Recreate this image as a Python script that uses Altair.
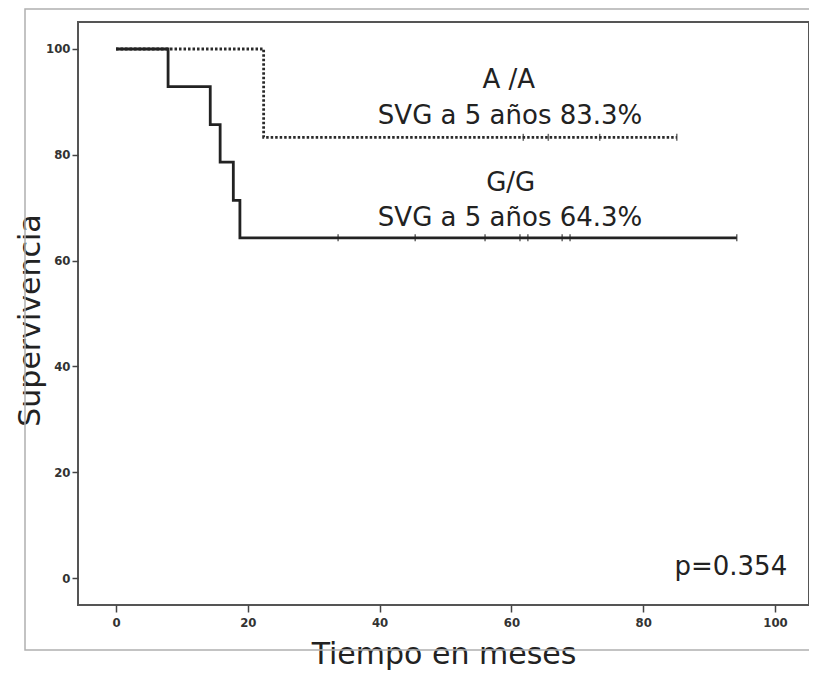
import altair as alt
import pandas as pd

# Kaplan-Meier step points (time in months, survival %)
aa_time = [0, 22.4, 85.1]
aa_surv = [100, 83.3, 83.3]
gg_time = [0, 7.9, 14.3, 15.8, 17.8, 18.8, 94.2]
gg_surv = [100, 92.9, 85.7, 78.6, 71.4, 64.3, 64.3]

# censored observations
aa_cens_time = [61.8, 65.6, 73.4, 85.1]
aa_cens_surv = [83.3, 83.3, 83.3, 83.3]
gg_cens_time = [33.7, 45.4, 56.0, 61.3, 62.5, 67.7, 68.9, 94.2]
gg_cens_surv = [64.3] * 8

x_ticks = [0, 20, 40, 60, 80, 100]
y_ticks = [0, 20, 40, 60, 80, 100]

labels = ["A /A", "SVG a 5 años 83.3%", "G/G", "SVG a 5 años 64.3%", "p=0.354"]
label_x = [59.6, 59.8, 59.9, 59.8, 93.3]
label_y = [94.1, 87.3, 74.7, 68.1, 2.1]

curves = pd.DataFrame({
    "t": aa_time + gg_time,
    "s": aa_surv + gg_surv,
    "g": ["A/A"] * len(aa_time) + ["G/G"] * len(gg_time),
})
cens = pd.DataFrame({
    "t": aa_cens_time + gg_cens_time,
    "s": aa_cens_surv + gg_cens_surv,
    "g": ["A/A"] * len(aa_cens_time) + ["G/G"] * len(gg_cens_time),
})
texts = pd.DataFrame({"label": labels, "x": label_x, "y": label_y})

TICKFONT = "Liberation Sans Narrow, DejaVu Sans Condensed, Liberation Sans"
TXTFONT = "DejaVu Sans"

xscale = alt.Scale(domain=[-5.77, 105.16], nice=False, zero=False)
yscale = alt.Scale(domain=[-5.1, 105.1], nice=False, zero=False)

xaxis = alt.Axis(values=x_ticks, grid=False, domain=False, tickSize=7, tickColor="#444",
                 tickWidth=1.5, labelFont=TICKFONT, labelFontSize=13, labelFontWeight="bold",
                 labelColor="#333", labelPadding=4, title="Tiempo en meses",
                 titleFont=TXTFONT, titleFontSize=30, titleFontWeight="normal",
                 titleColor="#222", titlePadding=10)
yaxis = alt.Axis(values=y_ticks, grid=False, domain=False, tickSize=6, tickColor="#444",
                 tickWidth=1.5, labelFont=TICKFONT, labelFontSize=13, labelFontWeight="bold",
                 labelColor="#333", labelPadding=2, title="Supervivencia",
                 titleFont=TXTFONT, titleFontSize=30, titleFontWeight="normal",
                 titleColor="#222", titlePadding=0, titleY=298)

colscale = alt.Scale(domain=["A/A", "G/G"], range=["#2a2a2a", "#222222"])

lines = alt.Chart(curves).mark_line(interpolate="step-after", strokeWidth=2.8).encode(
    x=alt.X("t:Q", scale=xscale, axis=xaxis),
    y=alt.Y("s:Q", scale=yscale, axis=yaxis),
    strokeDash=alt.StrokeDash("g:N", scale=alt.Scale(domain=["A/A", "G/G"], range=[[2.5, 2], [1, 0]]), legend=None),
    color=alt.Color("g:N", scale=colscale, legend=None),
)

ticks = alt.Chart(cens).mark_tick(orient="vertical", size=7, thickness=1.5).encode(
    x=alt.X("t:Q", scale=xscale),
    y=alt.Y("s:Q", scale=yscale),
    color=alt.Color("g:N", scale=colscale, legend=None),
)

txt = alt.Chart(texts).mark_text(font=TXTFONT, fontSize=26, color="#222", align="center",
                                 baseline="middle").encode(
    x=alt.X("x:Q", scale=xscale),
    y=alt.Y("y:Q", scale=yscale),
    text="label:N",
)

frame = alt.Chart(pd.DataFrame({"a": [0]})).mark_rect(fill=None, stroke="#b0b0b0", strokeWidth=1.5,
                                                     clip=False).encode(
    x=alt.value(-53), x2=alt.value(740), y=alt.value(-13), y2=alt.value(628)
)

chart = alt.layer(frame, lines, ticks, txt).properties(
    width=731, height=583,
    autosize=alt.AutoSizeParams(type="none"),
    padding={"left": 70, "top": 14, "right": 0, "bottom": 68},
    background="white",
).configure_view(stroke="#555", strokeWidth=2)

chart.save("out.html", embed_options={"renderer": "svg", "actions": False})
